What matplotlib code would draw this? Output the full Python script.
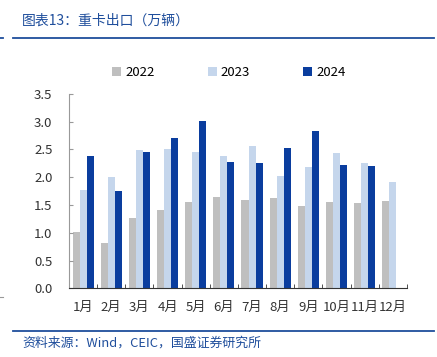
import matplotlib.pyplot as plt
import numpy as np

plt.rcParams['font.family'] = ['Noto Sans CJK SC', 'DejaVu Sans']

months = ['1月', '2月', '3月', '4月', '5月', '6月', '7月', '8月', '9月', '10月', '11月', '12月']
v2022 = [1.02, 0.81, 1.27, 1.42, 1.55, 1.65, 1.59, 1.63, 1.48, 1.56, 1.54, 1.58]
v2023 = [1.78, 2.00, 2.49, 2.50, 2.46, 2.39, 2.57, 2.03, 2.19, 2.43, 2.26, 1.91]
v2024 = [2.39, 1.76, 2.45, 2.71, 3.02, 2.28, 2.25, 2.53, 2.83, 2.22, 2.21]
yticks = [0.0, 0.5, 1.0, 1.5, 2.0, 2.5, 3.0, 3.5]

c22 = '#bfbfbf'
c23 = '#c5d6ec'
c24 = '#0a3d9e'
cblue = '#1f4e9c'

fig = plt.figure(figsize=(4.37, 3.57), dpi=100)
ax = fig.add_axes([0.158, 0.192, 0.773, 0.545])

x = np.arange(len(months))
w = 0.25
ax.bar(x - w, v2022, w, color=c22, label='2022')
ax.bar(x, v2023, w, color=c23, label='2023')
ax.bar(np.arange(len(v2024)) + w, v2024, w, color=c24, label='2024')

ax.set_xlim(-0.5, len(months) - 0.5)
ax.set_ylim(0, 3.5)
ax.set_yticks(yticks)
ax.set_yticklabels([f'{t:.1f}' for t in yticks], fontsize=9.5, color='#333333')
ax.set_xticks(x)
ax.set_xticklabels(months, fontsize=9.5, color='#333333')
ax.set_xticks(np.arange(len(months) + 1) - 0.5, minor=True)
ax.tick_params(axis='x', which='major', length=0, pad=9)
ax.tick_params(axis='x', which='minor', direction='in', length=3, color='#333333')
ax.tick_params(axis='y', direction='in', length=3, color='#999999', pad=12)
for s in ['top', 'right']:
    ax.spines[s].set_visible(False)
ax.spines['left'].set_color('#999999')
ax.spines['bottom'].set_color('#333333')

ax.legend(loc='center', bbox_to_anchor=(0.473, 1.11), ncol=3, frameon=False,
          fontsize=9.5, handlelength=0.7, handleheight=0.7, columnspacing=4.0,
          handletextpad=0.3)

fig.text(0.05, 0.943, '图表13：重卡出口（万辆）', fontsize=10, color=cblue,
         style='italic', va='center')
fig.add_artist(plt.Line2D([0.03, 0.993], [0.893, 0.893], color=cblue, lw=1.3))
fig.add_artist(plt.Line2D([0.0, 0.008], [0.893, 0.893], color=cblue, lw=1.3))
fig.add_artist(plt.Line2D([0.03, 0.993], [0.072, 0.072], color=cblue, lw=1.3))
fig.add_artist(plt.Line2D([0.0, 0.008], [0.168, 0.168], color='#999999', lw=0.8))
fig.text(0.05, 0.038, '资料来源：Wind，CEIC，国盛证券研究所', fontsize=9.3, color=cblue,
         style='italic', va='center')

fig.savefig('out.png', dpi=100)
